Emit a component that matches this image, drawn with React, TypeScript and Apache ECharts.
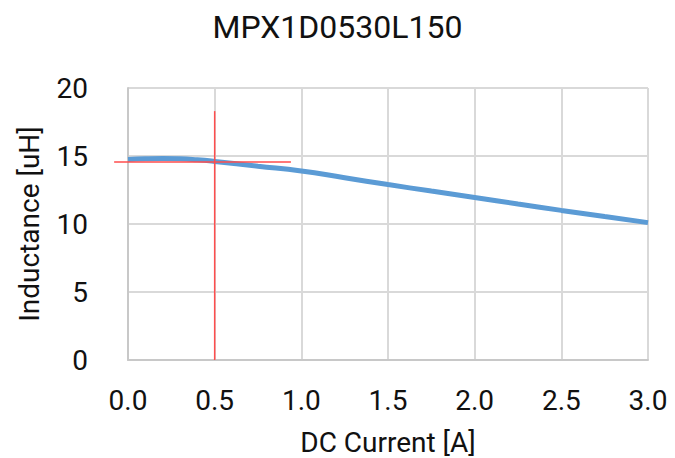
import React, { useEffect, useRef } from "react";
import * as echarts from "echarts";

const title = "MPX1D0530L150";
const xAxisName = "DC Current [A]";
const yAxisName = "Inductance [uH]";
const currentA = [0, 0.1, 0.2, 0.3, 0.4, 0.5, 0.75, 1.0, 1.25, 1.5, 1.75, 2.0, 2.25, 2.5, 2.75, 3.0];
const inductanceUH = [14.75, 14.8, 14.82, 14.8, 14.72, 14.6, 14.25, 13.9, 13.4, 12.9, 12.42, 11.95, 11.47, 11.0, 10.55, 10.1];
const markerVertical = [[0.5, 0], [0.5, 18.3]];
const markerHorizontal = [[-0.08, 14.55], [0.94, 14.55]];

const FONT = "Roboto, sans-serif";
const X_MIN = 0;
const X_MAX = 3;
const EXT_MIN = -0.08;

export default function App() {
  const ref = useRef<HTMLDivElement>(null);
  useEffect(() => {
    if (!ref.current) return;
    const chart = echarts.init(ref.current, undefined, { renderer: "svg" });
    const W = 675;
    const gl = 128;
    const gr = 27;
    const plotW = W - gl - gr;
    const extLeft = gl - ((X_MIN - EXT_MIN) / (X_MAX - X_MIN)) * plotW;
    chart.setOption({
      animation: false,
      backgroundColor: "#ffffff",
      title: {
        text: title,
        left: "center",
        top: 6,
        textStyle: { fontFamily: FONT, fontSize: 32, fontWeight: "normal", color: "#111111" },
      },
      grid: [
        { left: gl, right: gr, top: 88, bottom: 98, outerBoundsMode: "none", containLabel: false },
        { left: extLeft, right: gr, top: 88, bottom: 98, outerBoundsMode: "none", containLabel: false, show: false },
      ],
      xAxis: [
        {
          type: "value",
          gridIndex: 0,
          min: X_MIN,
          max: X_MAX,
          interval: 0.5,
          name: xAxisName,
          nameLocation: "middle",
          nameGap: 68,
          nameTextStyle: { fontFamily: FONT, fontSize: 28, color: "#111111" },
          axisLabel: {
            fontFamily: FONT,
            fontSize: 28,
            color: "#111111",
            margin: 26,
            formatter: (v: number) => v.toFixed(1),
          },
          axisLine: { show: true, lineStyle: { color: "#c8c8c8", width: 2 } },
          axisTick: { show: false },
          splitLine: { show: true, lineStyle: { color: "#d9d9d9", width: 2 } },
        },
        { type: "value", gridIndex: 1, min: EXT_MIN, max: X_MAX, show: false },
      ],
      yAxis: [
        {
          type: "value",
          gridIndex: 0,
          min: 0,
          max: 20,
          interval: 5,
          name: yAxisName,
          nameLocation: "middle",
          nameGap: 85,
          nameTextStyle: { fontFamily: FONT, fontSize: 28, color: "#111111" },
          axisLabel: { fontFamily: FONT, fontSize: 28, color: "#111111", margin: 40 },
          axisLine: { show: true, lineStyle: { color: "#c8c8c8", width: 2 } },
          axisTick: { show: false },
          splitLine: { show: true, lineStyle: { color: "#d9d9d9", width: 2 } },
        },
        { type: "value", gridIndex: 1, min: 0, max: 20, show: false },
      ],
      series: [
        {
          type: "line",
          xAxisIndex: 0,
          yAxisIndex: 0,
          data: currentA.map((x, i) => [x, inductanceUH[i]]),
          smooth: true,
          symbol: "none",
          lineStyle: { color: "#5b9bd5", width: 5 },
          z: 3,
        },
        {
          type: "line",
          xAxisIndex: 0,
          yAxisIndex: 0,
          data: markerVertical,
          symbol: "none",
          clip: false,
          lineStyle: { color: "#ff4d4d", width: 1.5 },
          z: 4,
        },
        {
          type: "line",
          xAxisIndex: 1,
          yAxisIndex: 1,
          data: markerHorizontal,
          symbol: "none",
          clip: false,
          lineStyle: { color: "#ff4d4d", width: 1.5 },
          z: 4,
        },
      ],
    });
    return () => chart.dispose();
  }, []);
  return <div ref={ref} style={{ width: 675, height: 458, position: "absolute", left: 0, top: 0 }} />;
}
